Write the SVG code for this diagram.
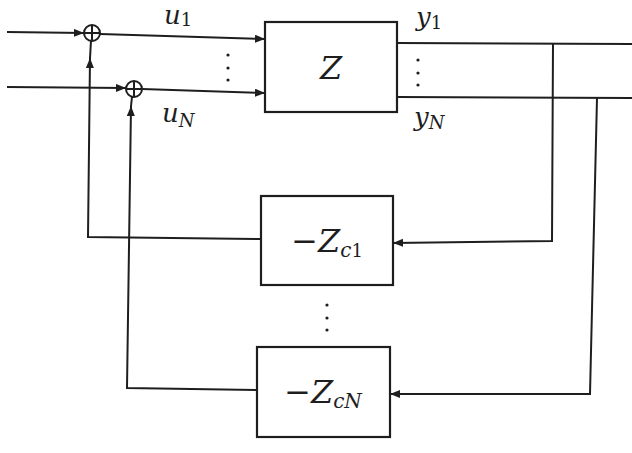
<svg xmlns="http://www.w3.org/2000/svg" width="632" height="453" viewBox="0 0 632 453">
<style>
.ln{fill:none;stroke:#1e1e1e;stroke-width:2}
.bx{fill:#fff;stroke:#1e1e1e;stroke-width:2.2}
text,tspan{fill:#1e1e1e}
.t{font-style:italic}
.m{font-style:normal}
.dot{fill:#1e1e1e}
</style>
<defs>
<marker id="ar" markerUnits="userSpaceOnUse" markerWidth="12" markerHeight="10" refX="10" refY="4" orient="auto">
<path d="M0,0 L10,4 L0,8 Z" fill="#1e1e1e"/>
</marker>
</defs>
<rect width="632" height="453" fill="#fff"/>
<g id="connectors">
<path class="ln" d="M7,32 L84,33" marker-end="url(#ar)"/>
<path class="ln" d="M100,34 L265,39" marker-end="url(#ar)"/>
<path class="ln" d="M7,87 L126,88" marker-end="url(#ar)"/>
<path class="ln" d="M142,89 L265,93" marker-end="url(#ar)"/>
<path class="ln" d="M397,43 L632,44"/>
<path class="ln" d="M397,97 L632,98"/>
<path class="ln" d="M553,43 L552,241 L393,243" marker-end="url(#ar)"/>
<path class="ln" d="M597,98 L590,394 L390,394" marker-end="url(#ar)"/>
<path class="ln" d="M261,239 L88,237 L90,58" marker-end="url(#ar)"/>
<path class="ln" d="M90,58 L91,41"/>
<path class="ln" d="M257,390 L127,388 L131,106" marker-end="url(#ar)"/>
<path class="ln" d="M131,106 L132,97"/>
</g>
<g id="sum1">
<circle class="ln" cx="92" cy="33" r="8" fill="#fff"/>
<path class="ln" d="M84,33 H100 M92,25 V41"/>
</g>
<g id="sum2">
<circle class="ln" cx="134" cy="89" r="8" fill="#fff"/>
<path class="ln" d="M126,89 H142 M134,81 V97"/>
</g>
<g font-family="'DejaVu Serif', 'Liberation Serif', serif">
<g id="Z">
<rect class="bx" x="265" y="22" width="132" height="90"/>
<text class="t" x="331" y="79" font-size="32" text-anchor="middle">Z</text>
</g>
<g id="Zc1">
<rect class="bx" x="261" y="196" width="132" height="89"/>
<text x="327" y="252" text-anchor="middle"><tspan class="m" font-size="32">−</tspan><tspan class="t" font-size="32">Z</tspan><tspan class="t" font-size="20" dy="5">c</tspan><tspan class="m" font-size="18">1</tspan></text>
</g>
<g id="ZcN">
<rect class="bx" x="257" y="347" width="133" height="90"/>
<text x="323" y="403" text-anchor="middle"><tspan class="m" font-size="32">−</tspan><tspan class="t" font-size="32">Z</tspan><tspan class="t" font-size="20" dy="5">cN</tspan></text>
</g>
<g id="labels">
<text class="t" x="164" y="24" font-size="26">u<tspan class="m" font-size="18" dy="2">1</tspan></text>
<text class="t" x="162" y="122" font-size="26">u<tspan font-size="18" dy="5">N</tspan></text>
<text class="t" x="416" y="26" font-size="26">y<tspan class="m" font-size="18" dy="3">1</tspan></text>
<text class="t" x="414" y="126" font-size="26">y<tspan font-size="18" dy="3">N</tspan></text>
</g>
</g>
<g id="dots">
<circle class="dot" cx="228" cy="55" r="1.6"/>
<circle class="dot" cx="228" cy="68" r="1.6"/>
<circle class="dot" cx="228" cy="80" r="1.6"/>
<circle class="dot" cx="418" cy="60" r="1.6"/>
<circle class="dot" cx="418" cy="73" r="1.6"/>
<circle class="dot" cx="418" cy="85" r="1.6"/>
<circle class="dot" cx="327" cy="305" r="1.6"/>
<circle class="dot" cx="327" cy="318" r="1.6"/>
<circle class="dot" cx="327" cy="330" r="1.6"/>
</g>
</svg>
